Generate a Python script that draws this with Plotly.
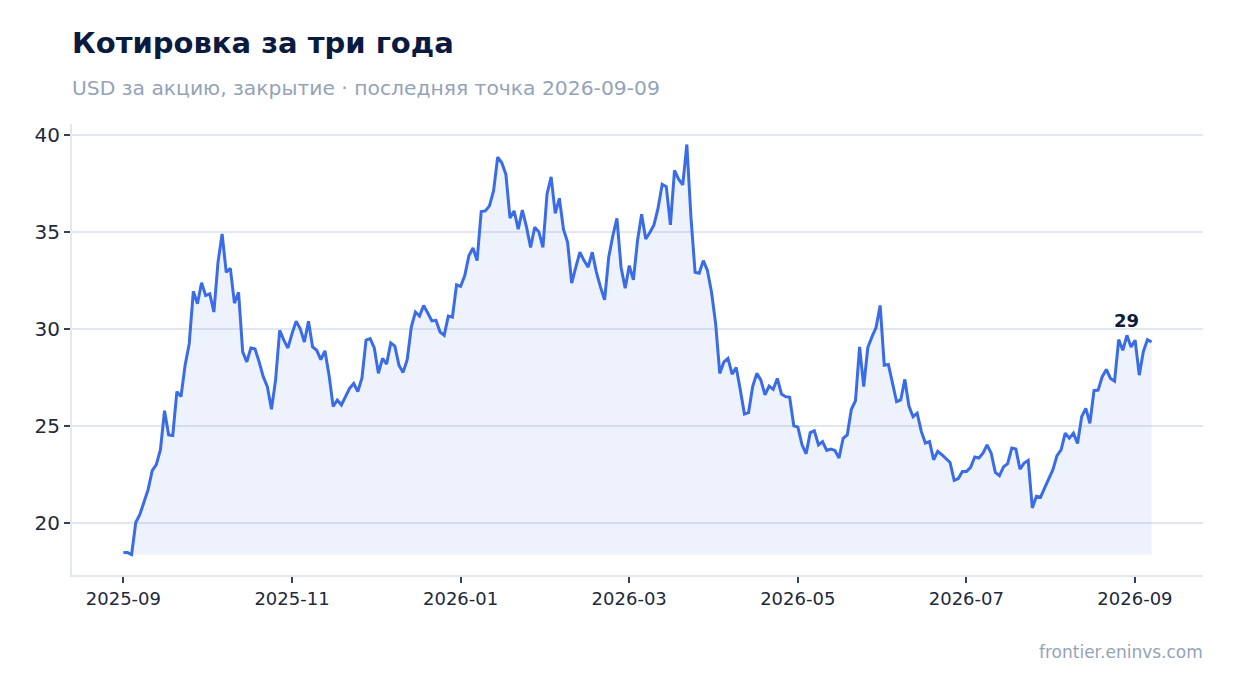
import pandas as pd
import plotly.graph_objects as go

# close prices
close = [
    18.5, 18.5, 18.4, 20.05, 20.46, 21.14, 21.74, 22.72, 23.03, 23.8,
    25.81, 24.56, 24.53, 26.79, 26.53, 28.15, 29.26, 31.96, 31.32, 32.4,
    31.74, 31.83, 30.89, 33.45, 34.91, 32.94, 33.14, 31.35, 31.91, 28.84,
    28.32, 29.04, 28.99, 28.32, 27.56, 27.05, 25.88, 27.38, 29.95, 29.44,
    29.04, 29.78, 30.41, 30.03, 29.35, 30.41, 29.09, 28.92, 28.44, 28.89,
    27.64, 26.02, 26.36, 26.1, 26.53, 26.96, 27.21, 26.79, 27.5, 29.44,
    29.52, 29.04, 27.73, 28.5, 28.21, 29.3, 29.13, 28.15, 27.78, 28.44,
    30.12, 30.89, 30.68, 31.23, 30.84, 30.43, 30.46, 29.86, 29.69, 30.68,
    30.63, 32.29, 32.21, 32.77, 33.79, 34.19, 33.54, 36.07, 36.1, 36.36,
    37.13, 38.87, 38.58, 37.98, 35.73, 36.1, 35.16, 36.14, 35.28, 34.22,
    35.25, 35.03, 34.22, 36.96, 37.85, 35.97, 36.75, 35.16, 34.48, 32.38,
    33.2, 33.97, 33.54, 33.2, 33.97, 32.95, 32.17, 31.52, 33.71, 34.82,
    35.71, 33.2, 32.12, 33.28, 32.55, 34.56, 35.93, 34.65, 34.99, 35.38,
    36.24, 37.47, 37.35, 35.38, 38.19, 37.73, 37.44, 39.52, 35.76, 32.94,
    32.89, 33.54, 33.03, 31.91, 30.29, 27.73, 28.32, 28.5, 27.69, 28.03,
    26.87, 25.64, 25.71, 27.05, 27.73, 27.38, 26.62, 27.08, 26.91, 27.47,
    26.67, 26.53, 26.5, 25.03, 24.96, 24.05, 23.59, 24.68, 24.77, 24.05,
    24.22, 23.76, 23.83, 23.76, 23.37, 24.39, 24.56, 25.88, 26.32, 29.09,
    27.05, 29.06, 29.61, 30.09, 31.23, 28.15, 28.19, 27.21, 26.27, 26.36,
    27.42, 26.05, 25.5, 25.68, 24.74, 24.14, 24.22, 23.28, 23.71, 23.54,
    23.33, 23.14, 22.22, 22.31, 22.68, 22.68, 22.89, 23.42, 23.37, 23.62,
    24.05, 23.62, 22.63, 22.46, 22.91, 23.08, 23.88, 23.83, 22.8, 23.11,
    23.25, 20.8, 21.4, 21.35, 21.83, 22.34, 22.77, 23.49, 23.79, 24.65,
    24.39, 24.65, 24.12, 25.5, 25.93, 25.16, 26.84, 26.87, 27.56, 27.93,
    27.47, 27.33, 29.47, 28.92, 29.69, 29.09, 29.44, 27.64, 28.86, 29.47,
    29.35,
]
dates = pd.date_range("2025-09-01", "2026-09-07", periods=len(close))

# ticks sit evenly spaced (every sixth of a year) in the original
x_ticks = ["2025-09-01", "2025-10-31 20:00", "2025-12-31 16:00", "2026-03-02 12:00",
           "2026-05-02 08:00", "2026-07-02 04:00", "2026-09-01"]
x_labels = ["2025-09", "2025-11", "2026-01", "2026-03", "2026-05", "2026-07", "2026-09"]
y_ticks = [20, 25, 30, 35, 40]

title = "Котировка за три года"
subtitle = "USD за акцию, закрытие · последняя точка 2026-09-09"
source = "frontier.eninvs.com"

lo, hi = min(close), max(close)
pad = (hi - lo) * 0.05
span_days = (dates[-1] - dates[0]) * 0.05

fig = go.Figure()
# baseline at the minimum so the fill stops there
fig.add_trace(go.Scatter(x=dates, y=[lo] * len(close), mode="lines",
                         line=dict(width=0), hoverinfo="skip", showlegend=False))
fig.add_trace(go.Scatter(x=dates, y=close, mode="lines", fill="tonexty",
                         fillcolor="rgba(59,108,232,0.09)",
                         line=dict(color="#3b6ce8", width=3),
                         showlegend=False))

fig.add_annotation(x=dates[244], y=close[244], text="<b>%d</b>" % int(close[-1]),
                   showarrow=False, yshift=15,
                   font=dict(size=18, color="#0b1a3f"))

fig.add_annotation(xref="paper", yref="paper", x=-0.002, y=1.18, xanchor="left", yanchor="middle",
                   text="<b>" + title + "</b>", showarrow=False,
                   font=dict(size=29, color="#0b1a3f"))
fig.add_annotation(xref="paper", yref="paper", x=-0.002, y=1.08, xanchor="left", yanchor="middle",
                   text=subtitle, showarrow=False,
                   font=dict(size=20.3, color="#94a3b8"))
fig.add_annotation(xref="paper", yref="paper", x=1.002, y=-0.171, xanchor="right", yanchor="middle",
                   text=source, showarrow=False,
                   font=dict(size=17, color="#94a3b8"))

fig.update_layout(
    width=1218, height=677,
    margin=dict(l=64, r=23, t=116, b=110),
    plot_bgcolor="white", paper_bgcolor="white",
    font=dict(family="DejaVu Sans", color="#1e293b"),
    xaxis=dict(range=[dates[0] - span_days, dates[-1] + span_days],
               tickvals=x_ticks, ticktext=x_labels,
               showgrid=False, showline=True, linecolor="#e2e8f0", linewidth=2,
               ticks="outside", ticklen=6, tickcolor="#334155", tickwidth=2,
               tickfont=dict(size=18, color="#1e293b")),
    yaxis=dict(range=[lo - pad, hi + pad], tickvals=y_ticks,
               showgrid=True, gridcolor="#e2e8f0", gridwidth=2, zeroline=False,
               showline=True, linecolor="#e2e8f0", linewidth=2,
               ticks="outside", ticklen=6, tickcolor="#334155", tickwidth=2,
               tickfont=dict(size=20, color="#1e293b")),
)

fig.write_html("out.html")
